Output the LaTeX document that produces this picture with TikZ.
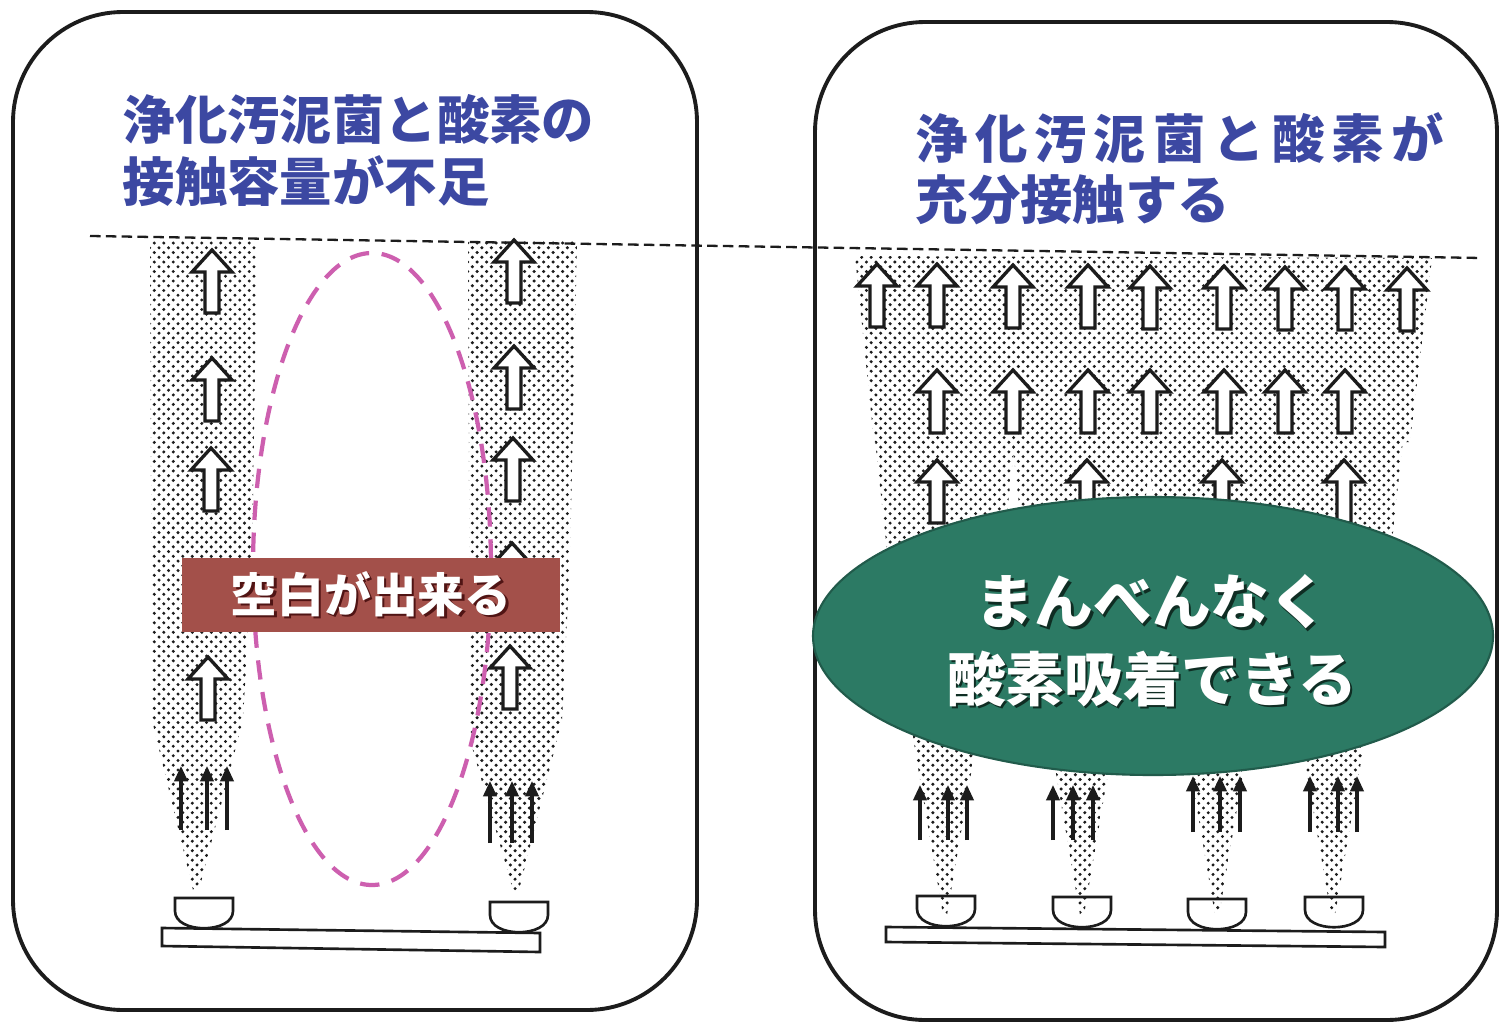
\documentclass[tikz,border=0pt]{standalone}
\usepackage{fontspec}
\newfontfamily\jp{Noto Sans CJK JP}
\usetikzlibrary{arrows.meta,patterns}

% fine stipple used for the rising air plumes
\pgfdeclarepatternformonly{stipple}{\pgfpoint{-0.1pt}{-0.1pt}}{\pgfpoint{2.8pt}{2.8pt}}{\pgfpoint{2.7pt}{2.7pt}}{%
  \pgfpathcircle{\pgfpoint{0.68pt}{0.68pt}}{0.48pt}%
  \pgfpathcircle{\pgfpoint{2.03pt}{2.03pt}}{0.48pt}%
  \pgfusepath{fill}}

\definecolor{titleblue}{RGB}{60,72,162}
\definecolor{gapmagenta}{RGB}{205,95,175}
\definecolor{labelred}{RGB}{163,80,74}
\definecolor{labelshadow}{RGB}{80,20,20}
\definecolor{ovalgreen}{RGB}{44,122,100}
\definecolor{ovalshadow}{RGB}{15,45,35}
\definecolor{ink}{RGB}{28,28,28}

\newcommand\lsp{\kern2pt}
% text with a small drop shadow, set in one box
\newcommand\dropshadow[2]{\leavevmode\rlap{\kern0.7pt\raisebox{-0.7pt}{\color{#2}#1}}#1}

\tikzset{
  panel/.style={draw=ink, line width=1.1pt, fill=white, rounded corners=1.1cm},
  plume/.style={pattern=stipple, pattern color=ink},
  surface/.style={draw=ink, line width=0.65pt, dash pattern=on 3pt off 1.5pt},
  blockline/.style={draw=ink, fill=white, line width=0.95pt, line join=miter},
  bubble/.style={draw=ink, line width=0.9pt, -{Triangle[length=4.4pt,width=3.8pt]}},
  cupline/.style={draw=ink, line width=0.75pt, fill=none},
  barline/.style={draw=ink, line width=0.75pt, fill=white},
  gapline/.style={draw=gapmagenta, line width=1.2pt, dash pattern=on 5.5pt off 3.6pt},
  titletext/.style={font=\jp\bfseries\fontsize{14.9}{17}\selectfont, text=titleblue, anchor=west, inner sep=0pt},
  labeltext/.style={font=\jp\bfseries\fontsize{13.3}{15}\selectfont, inner sep=0pt, text=white},
  ovaltext/.style={font=\jp\bfseries\fontsize{16.7}{19}\selectfont, inner sep=0pt, text=white},
  fatarrow/.pic={\path[blockline] (-7,0) -- (-7,-41) -- (-20,-41) -- (0,-63) -- (20,-41) -- (7,-41) -- (7,0) -- cycle;},
  bowl/.pic={\path[cupline] (-29,0) -- (29,0) -- (29,13) .. controls (29,36) and (-29,36) .. (-29,13) -- cycle;}
}

\begin{document}
\begin{tikzpicture}[x=0.01cm, y=-0.01cm]
\useasboundingbox (0,0) rectangle (1500,1024);
\fill[white] (0,0) rectangle (1500,1024);

% ---------- frames ----------
\path[panel] (13,12) rectangle (697,1010);
\path[panel] (815,22) rectangle (1497,1020);

% ---------- left tank: two isolated plumes ----------
\path[plume] (150,240) -- (257,240) -- (252,560) -- (243,720) -- (199,890) -- (193,890) -- (152,720) -- cycle;
\path[plume] (468,240) -- (577,240) -- (570,560) -- (562,720) -- (519,890) -- (513,890) -- (470,740) -- cycle;

% ---------- right tank: merged plumes ----------
\path[plume] (855,256) -- (1432,258) -- (1410,442) -- (874,442) -- cycle;
\foreach \c in {945,1082,1217,1333}{
  \path[plume] (\c-70,440) -- (\c+70,440) -- (\c+57,560) -- (\c+30,750) -- (\c+2,915) -- (\c-2,915) -- (\c-30,750) -- (\c-57,560) -- cycle;
}

% water surface
\draw[surface] (90,236) -- (1482,258);

% ---------- left tank: rising arrows ----------
\pic at (212,313) {fatarrow};
\pic at (212,421) {fatarrow};
\pic at (211,511) {fatarrow};
\pic at (208,720) {fatarrow};
\pic at (514,303) {fatarrow};
\pic at (514,409) {fatarrow};
\pic at (513,501) {fatarrow};
\pic at (512,606) {fatarrow};
\pic at (510,709) {fatarrow};

\foreach \x in {181,207,227}{ \draw[bubble] (\x,830) -- (\x,766); }
\foreach \x in {490,512,532}{ \draw[bubble] (\x,843) -- (\x,781); }

% diffusers and header pipe
\path[barline] (162,928) -- (540,933) -- (540,952) -- (162,946) -- cycle;
\pic at (204,898) {bowl};
\pic at (519,902) {bowl};

% dead zone between the plumes
\draw[gapline] (372,569) ellipse [x radius=119, y radius=316];

\node[fill=labelred, minimum width=3.78cm, minimum height=0.74cm, inner sep=0pt] (gapbox) at (371,595) {};
\node[labeltext] (gaptext) at (gapbox.center) {\dropshadow{空白が出来る}{labelshadow}};

\node[titletext] (lefttitle1) at (122,120) {浄化汚泥菌と酸素の};
\node[titletext] (lefttitle2) at (122,181) {接触容量が不足};

% ---------- right tank: rising arrows ----------
\foreach \x/\t in {877/264,937/264,1013/265,1088/265,1150/266,1224/266,1285/267,1345/267,1407/268}{
  \pic at (\x,\t+63) {fatarrow};
}
\foreach \x in {937,1013,1088,1150,1224,1285,1345}{
  \pic at (\x,433) {fatarrow};
}
\foreach \x in {937,1087,1222,1344}{
  \pic at (\x,523) {fatarrow};
}

\foreach \x in {920,948,967,1053,1073,1093}{ \draw[bubble] (\x,840) -- (\x,785); }
\foreach \x in {1193,1220,1240,1310,1338,1357}{ \draw[bubble] (\x,832) -- (\x,776); }

\path[barline] (886,927) -- (1385,932) -- (1385,947) -- (886,942) -- cycle;
\pic at (946,896) {bowl};
\pic at (1082,897) {bowl};
\pic at (1217,899) {bowl};
\pic at (1334,897) {bowl};

% even contact zone
\path[fill=ovalgreen, draw=ovalgreen!75!black, line width=0.6pt] (1153,636) ellipse [x radius=340, y radius=139];
\node[ovaltext] (ovaltext1) at (1152,603) {\dropshadow{まんべんなく}{ovalshadow}};
\node[ovaltext] (ovaltext2) at (1152,680) {\dropshadow{酸素吸着できる}{ovalshadow}};

\node[titletext] (righttitle1) at (915,138) {浄\lsp 化\lsp 汚\lsp 泥\lsp 菌\lsp と\lsp 酸\lsp 素\lsp が};
\node[titletext] (righttitle2) at (915,200) {充分接触する};
\end{tikzpicture}
\end{document}
